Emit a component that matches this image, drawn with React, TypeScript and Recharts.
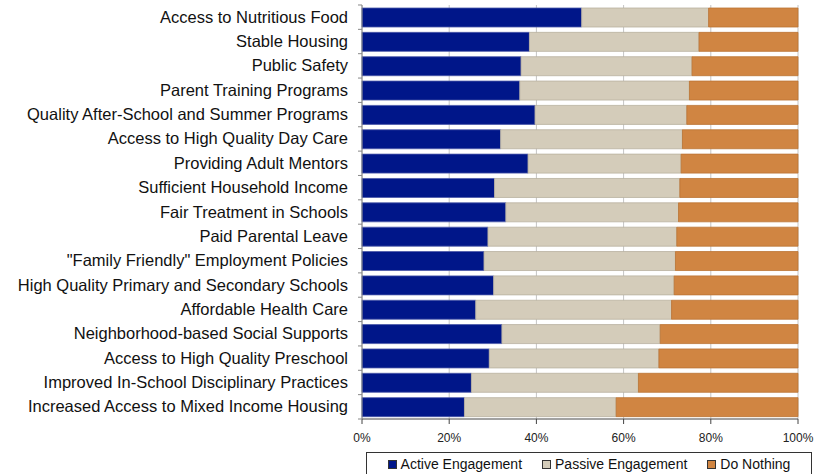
import React from 'react';
import { BarChart, Bar, XAxis, YAxis, CartesianGrid, Legend } from 'recharts';

const categories = [
  'Access to Nutritious Food',
  'Stable Housing',
  'Public Safety',
  'Parent Training Programs',
  'Quality After-School and Summer Programs',
  'Access to High Quality Day Care',
  'Providing Adult Mentors',
  'Sufficient Household Income',
  'Fair Treatment in Schools',
  'Paid Parental Leave',
  '"Family Friendly" Employment Policies',
  'High Quality Primary and Secondary Schools',
  'Affordable Health Care',
  'Neighborhood-based Social Supports',
  'Access to High Quality Preschool',
  'Improved In-School Disciplinary Practices',
  'Increased Access to Mixed Income Housing',
];

const active = [50.4, 38.4, 36.5, 36.2, 39.7, 31.8, 38.1, 30.4, 33.0, 28.9, 28.0, 30.2, 26.1, 32.1, 29.2, 25.1, 23.5];
const passive = [29.1, 38.9, 39.2, 38.9, 34.8, 41.7, 35.1, 42.5, 39.6, 43.3, 43.9, 41.4, 44.9, 36.3, 38.9, 38.3, 34.8];
const nothing = [20.5, 22.7, 24.3, 24.9, 25.5, 26.5, 26.8, 27.1, 27.4, 27.8, 28.1, 28.4, 29.0, 31.6, 31.9, 36.6, 41.7];

const xTicks = [0, 20, 40, 60, 80, 100];

const series = [
  { key: 'active', name: 'Active Engagement', fill: '#001689', stroke: '#4a58a8' },
  { key: 'passive', name: 'Passive Engagement', fill: '#D4CCBA', stroke: '#b9b19f' },
  { key: 'nothing', name: 'Do Nothing', fill: '#D08542', stroke: '#bb7434' },
];

const data = categories.map((name, i) => ({
  name,
  active: active[i],
  passive: passive[i],
  nothing: nothing[i],
}));

const FONT = '"Liberation Sans", Arial, sans-serif';
const HALF_BAND = 12.18;

const CategoryTick = (props: any) => {
  const { x, y, payload, index } = props;
  return (
    <g>
      <text x={x} y={y} dy={5.5} textAnchor="end" fontSize={16.5} fontFamily={FONT} fill="#111">
        {payload.value}
      </text>
      <line x1={x + 10} x2={x + 14} y1={y - HALF_BAND} y2={y - HALF_BAND} stroke="#888" />
      {index === categories.length - 1 && (
        <line x1={x + 10} x2={x + 14} y1={y + HALF_BAND} y2={y + HALF_BAND} stroke="#888" />
      )}
    </g>
  );
};

const LegendBox = () => (
  <div
    style={{
      border: '1px solid #333',
      height: 24,
      boxSizing: 'border-box',
      display: 'flex',
      alignItems: 'center',
      justifyContent: 'center',
      gap: 20,
      fontFamily: FONT,
      fontSize: 14,
      color: '#111',
      background: '#fff',
    }}
  >
    {series.map((s) => (
      <span key={s.key} style={{ display: 'flex', alignItems: 'center' }}>
        <span
          style={{
            display: 'inline-block',
            width: 7,
            height: 7,
            background: s.fill,
            border: '1px solid #333',
            marginRight: 4,
          }}
        />
        {s.name}
      </span>
    ))}
  </div>
);

export default function App() {
  return (
    <div style={{ position: 'absolute', left: 0, top: 0, background: '#fff' }}>
      <BarChart
        width={831}
        height={474}
        data={data}
        layout="vertical"
        margin={{ top: 5, right: 33, bottom: 0, left: 0 }}
        barSize={19}
      >
        <CartesianGrid horizontal={false} vertical stroke="#c4c4c4" />
        <XAxis
          type="number"
          domain={[0, 100]}
          ticks={xTicks}
          tickFormatter={(v) => `${v}%`}
          height={29}
          tickSize={5}
          tickMargin={9}
          stroke="#444"
          tick={{ fontSize: 12, fontFamily: FONT, fill: '#222' }}
        />
        <YAxis
          type="category"
          dataKey="name"
          width={362}
          tickLine={false}
          tickSize={0}
          tickMargin={14}
          stroke="#888"
          interval={0}
          tick={<CategoryTick />}
        />
        <Legend
          verticalAlign="bottom"
          content={<LegendBox />}
          wrapperStyle={{ left: 366, width: 446, bottom: -4, height: 26 }}
        />
        {series.map((s) => (
          <Bar
            key={s.key}
            dataKey={s.key}
            name={s.name}
            stackId="a"
            fill={s.fill}
            stroke={s.stroke}
            strokeWidth={0.8}
            isAnimationActive={false}
          />
        ))}
      </BarChart>
    </div>
  );
}
